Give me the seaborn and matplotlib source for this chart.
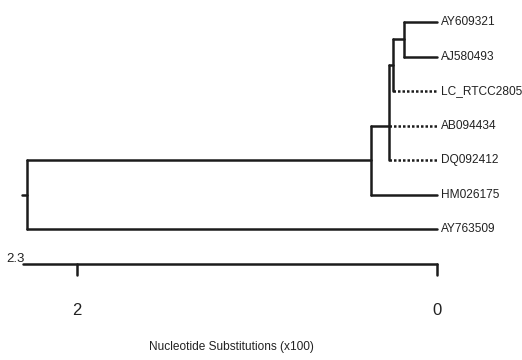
import pandas as pd
import numpy as np
import seaborn as sns
import matplotlib.pyplot as plt

# leaves, top to bottom
leaf_names = ['AY609321', 'AJ580493', 'LC_RTCC2805', 'AB094434',
              'DQ092412', 'HM026175', 'AY763509']
dotted_leaves = ['LC_RTCC2805', 'AB094434', 'DQ092412']

# internal nodes: height in nucleotide substitutions (x100), children
node_names = ['D', 'C', 'B', 'A', 'root']
node_heights = [0.185, 0.245, 0.267, 0.367, 2.278]
node_children = [['AY609321', 'AJ580493'],
                 ['D', 'LC_RTCC2805'],
                 ['C', 'AB094434', 'DQ092412'],
                 ['B', 'HM026175'],
                 ['A', 'AY763509']]

scale_max = 2.3
scale_ticks = [2, 0]
scale_label = 'Nucleotide Substitutions (x100)'


def build_segments():
    height = {n: 0.0 for n in leaf_names}
    ypos = {n: float(i) for i, n in enumerate(leaf_names)}
    rows = []
    seg = 0
    for name, h, kids in zip(node_names, node_heights, node_children):
        height[name] = h
        ys = [ypos[k] for k in kids]
        ypos[name] = float(np.median(ys))
        # vertical connector
        rows.append((seg, h, min(ys), 'solid'))
        rows.append((seg, h, max(ys), 'solid'))
        seg += 1
        # horizontal branches to children
        for k in kids:
            kind = 'dotted' if k in dotted_leaves else 'solid'
            rows.append((seg, h, ypos[k], kind))
            rows.append((seg, height[k], ypos[k], kind))
            seg += 1
    # little stub on the root
    root_y = ypos['root']
    rows.append((seg, node_heights[-1], root_y, 'solid'))
    rows.append((seg, node_heights[-1] + 0.028, root_y, 'solid'))
    seg += 1
    # scale bar
    bar_y = len(leaf_names)
    rows.append((seg, scale_max, bar_y, 'solid'))
    rows.append((seg, 0.0, bar_y, 'solid'))
    seg += 1
    for t in scale_ticks:
        rows.append((seg, t, bar_y, 'solid'))
        rows.append((seg, t, bar_y + 0.33, 'solid'))
        seg += 1
    return pd.DataFrame(rows, columns=['seg', 'x', 'y', 'kind']), ypos


segs, ypos = build_segments()

sns.set_style('white')
plt.rcParams['font.family'] = ['Liberation Sans', 'DejaVu Sans']

fig = plt.figure(figsize=(5.22, 3.6), dpi=100)
ax = fig.add_axes([0, 0, 1, 1])

sns.lineplot(data=segs, x='x', y='y', units='seg', estimator=None,
             style='kind', dashes={'solid': '', 'dotted': (1.0, 0.8)},
             color='#1c1c1c', linewidth=1.8, sort=False, legend=False, ax=ax)

for n in leaf_names:
    ax.text(-0.022, ypos[n], n, ha='left', va='center', fontsize=8.6,
            color='#222222')

bar_y = len(leaf_names)
ax.text(scale_max - 0.01, bar_y - 0.03, str(scale_max), ha='right',
        va='baseline', fontsize=9.5, color='#222222')
for t in scale_ticks:
    ax.text(t, bar_y + 1.35, str(t), ha='center', va='center', fontsize=12,
            color='#222222')
ax.text(1.14, bar_y + 2.42, scale_label, ha='center', va='center',
        fontsize=8.6, color='#222222')

ax.set_xlim(2.428, -0.472)
ax.set_ylim(9.797, -0.638)
ax.axis('off')

fig.savefig('out.png', dpi=100)
